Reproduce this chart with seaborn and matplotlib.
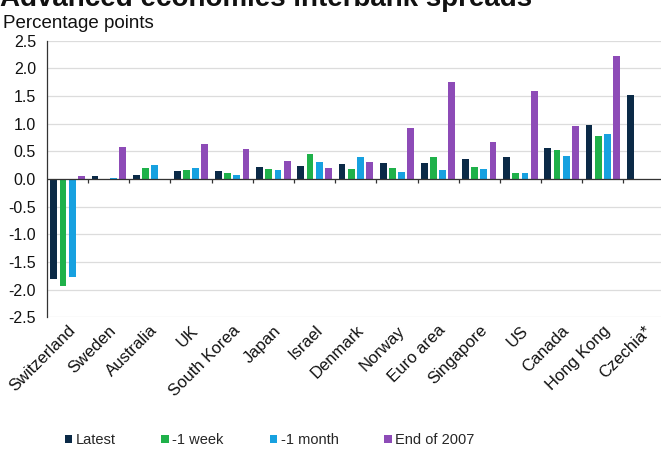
import numpy as np
import pandas as pd
import matplotlib
matplotlib.use("Agg")
import matplotlib.pyplot as plt
import seaborn as sns

# Interbank spreads by economy, percentage points
countries = ["Switzerland", "Sweden", "Australia", "UK", "South Korea", "Japan",
             "Israel", "Denmark", "Norway", "Euro area", "Singapore", "US",
             "Canada", "Hong Kong", "Czechia*"]
latest = [-1.80, 0.06, 0.07, 0.14, 0.14, 0.22, 0.23, 0.27, 0.28, 0.28, 0.36, 0.39, 0.56, 0.97, 1.52]
week_ago = [-1.93, -0.01, 0.20, 0.16, 0.10, 0.18, 0.46, 0.18, 0.19, 0.40, 0.21, 0.11, 0.52, 0.78, 0.00]
month_ago = [-1.77, 0.02, 0.26, 0.20, 0.07, 0.17, 0.30, 0.40, 0.12, 0.16, 0.18, 0.10, 0.42, 0.81, -0.02]
end_2007 = [0.06, 0.58, -0.01, 0.63, 0.55, 0.32, 0.19, 0.30, 0.93, 1.76, 0.66, 1.59, 0.95, 2.22, np.nan]

series_names = ["Latest", "-1 week", "-1 month", "End of 2007"]
series_colors = ["#0b2a47", "#1fb14a", "#17a1e0", "#8d4bb7"]
y_ticks = [-2.5, -2.0, -1.5, -1.0, -0.5, 0.0, 0.5, 1.0, 1.5, 2.0, 2.5]

wide = pd.DataFrame({"country": countries,
                     series_names[0]: latest,
                     series_names[1]: week_ago,
                     series_names[2]: month_ago,
                     series_names[3]: end_2007})
df = wide.melt(id_vars="country", var_name="series", value_name="spread")

sns.set_theme(style="white")
plt.rcParams["font.family"] = ["Liberation Sans", "DejaVu Sans"]
plt.rcParams["axes.unicode_minus"] = False

fig = plt.figure(figsize=(6.61, 4.53), dpi=100)
ax = fig.add_axes([0.0711, 0.2996, 0.9342, 0.6106])

sns.barplot(data=df, x="country", y="spread", hue="series",
            hue_order=series_names, palette=series_colors,
            order=countries, width=0.89, gap=0.25, linewidth=0,
            saturation=1, ax=ax)

ax.set_xlim(-0.5, len(countries) - 0.5)
ax.set_ylim(-2.5, 2.5)
ax.set_yticks(y_ticks)
ax.set_yticklabels([f"{t:.1f}" for t in y_ticks], fontsize=11.5, color="#111111")
ax.yaxis.grid(True, color="#dcdcdc", linewidth=0.9)
ax.set_axisbelow(True)

for side in ["top", "right", "bottom"]:
    ax.spines[side].set_visible(False)
ax.spines["left"].set_color("#333333")
ax.spines["left"].set_linewidth(0.9)
ax.tick_params(axis="y", direction="out", length=4, width=0.9, color="#333333", pad=4)

# zero line with separators between country groups
ax.axhline(0, color="#333333", linewidth=0.9, zorder=3)
ax.vlines(np.arange(0.5, len(countries) - 1, 1), -0.07, 0,
          color="#333333", linewidth=0.9, zorder=3)

ax.tick_params(axis="x", length=0, pad=4)
ax.set_xticks(range(len(countries)))
ax.set_xticklabels(countries, rotation=45, ha="right", rotation_mode="anchor",
                   fontsize=12, color="#111111")
ax.set_xlabel("")
ax.set_ylabel("")

sns.move_legend(ax, "center", bbox_to_anchor=(0.408, 0.029),
                bbox_transform=fig.transFigure, ncol=4, frameon=False,
                title=None, fontsize=10.5, handlelength=0.5, handleheight=0.5,
                handletextpad=0.25, columnspacing=3.15)

fig.text(0.0, 1 - 5.5 / 453, "Advanced economies interbank spreads",
         fontsize=20, fontweight="bold", va="baseline", ha="left", color="#111111")
fig.text(3 / 661, 1 - 27.7 / 453, "Percentage points",
         fontsize=13.5, va="baseline", ha="left", color="#111111")

fig.savefig("out.png", dpi=100)
